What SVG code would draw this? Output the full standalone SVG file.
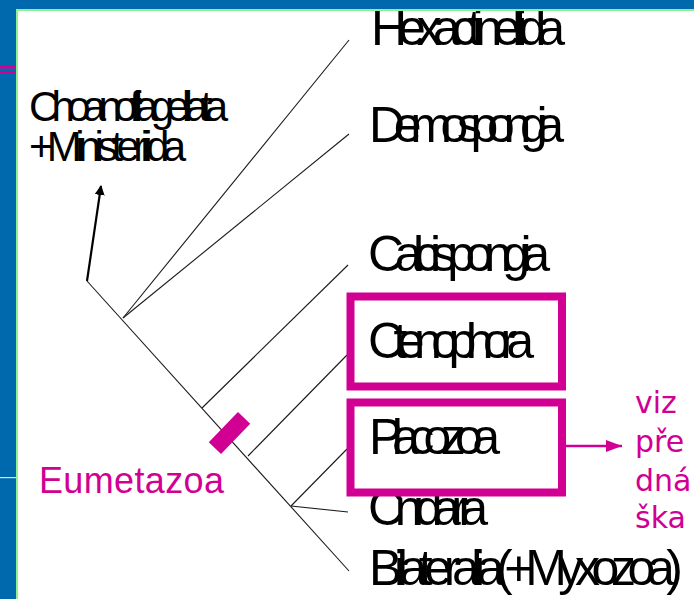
<svg xmlns="http://www.w3.org/2000/svg" width="694" height="599" viewBox="0 0 694 599">
<style>
.tree{stroke:#1a1a1a;stroke-width:1.1;fill:none}
.lbl{font-family:"Liberation Sans",Arial,sans-serif;font-size:50px;fill:#000}
.lbl2{font-family:"Liberation Sans",Arial,sans-serif;font-size:42px;fill:#000}
.mag{fill:#D10093}
.box{fill:none;stroke:#D10093;stroke-width:8}
.note{font-family:"DejaVu Sans",Verdana,sans-serif;font-size:30px;fill:#D10093}
</style>
<defs>
<marker id="ah" markerWidth="10" markerHeight="10" refX="9" refY="5" orient="auto" markerUnits="userSpaceOnUse">
<path d="M0,0 L10,5 L0,10 z" fill="#000"/>
</marker>
<marker id="ahm" markerWidth="17" markerHeight="12" refX="16" refY="6" orient="auto" markerUnits="userSpaceOnUse">
<path d="M0,0 L16,6 L0,12 z" fill="#D10093"/>
</marker>
</defs>
<rect x="0" y="0" width="694" height="599" fill="#fff"/>
<g id="connectors">
<line class="tree" x1="87" y1="281" x2="349" y2="571"/>
<line class="tree" x1="123" y1="318" x2="349" y2="40"/>
<line class="tree" x1="123" y1="318" x2="349" y2="134"/>
<line class="tree" x1="202" y1="408" x2="348" y2="265"/>
<line class="tree" x1="248" y1="456" x2="347" y2="355"/>
<line class="tree" x1="291" y1="506" x2="347" y2="449"/>
<line class="tree" x1="291" y1="506" x2="348" y2="512"/>
<line x1="87" y1="281" x2="101" y2="186" stroke="#000" stroke-width="2.2" marker-end="url(#ah)"/>
<line x1="566" y1="446" x2="622" y2="446" stroke="#D10093" stroke-width="2.5" marker-end="url(#ahm)"/>
</g>
<g id="outgroup"><text class="lbl2" x="29" y="121" textLength="199" lengthAdjust="spacing">Choanoflagellata</text>
<text class="lbl2" x="29" y="161" textLength="157" lengthAdjust="spacing">+Ministeriida</text></g>
<g id="hexactinellida"><text class="lbl" x="371" y="45" textLength="194" lengthAdjust="spacing">Hexactinellida</text></g>
<g id="demospongia"><text class="lbl" x="369" y="142" textLength="195" lengthAdjust="spacing">Demospongia</text></g>
<g id="calcispongia"><text class="lbl" x="368" y="271" textLength="182" lengthAdjust="spacing">Calcispongia</text></g>
<g id="ctenophora"><text class="lbl" x="368" y="358" textLength="166" lengthAdjust="spacing">Ctenophora</text>
<rect class="box" x="350.5" y="296.5" width="211.5" height="90"/></g>
<g id="cnidaria"><text class="lbl" x="368" y="525" textLength="120" lengthAdjust="spacing">Cnidaria</text></g>
<g id="placozoa"><text class="lbl" x="369" y="454" textLength="131" lengthAdjust="spacing">Placozoa</text>
<rect class="box" x="350.5" y="402.5" width="211.5" height="90"/></g>
<g id="bilateria"><text class="lbl" x="369" y="585" textLength="314" lengthAdjust="spacing">Bilateralia(+Myxozoa)</text></g>
<g id="eumetazoa"><rect class="mag" x="208.5" y="424.5" width="42" height="17" transform="rotate(-46 229.5 433)"/>
<text class="mag" x="39" y="493" font-family="Liberation Sans, Arial, sans-serif" font-size="36" textLength="185" lengthAdjust="spacing">Eumetazoa</text></g>
<g id="note"><text class="note" x="635" y="413">viz</text>
<text class="note" x="635" y="452">pře</text>
<text class="note" x="635" y="491">dná</text>
<text class="note" x="635" y="528">ška</text></g>
<g id="frame">
<rect x="0" y="0" width="694" height="9" fill="#0068AD"/>
<rect x="0" y="0" width="16" height="599" fill="#0068AD"/>
<rect x="16" y="9" width="678" height="2" fill="#90F090"/>
<rect x="16" y="9" width="2" height="590" fill="#90F090"/>
<rect x="0" y="66" width="16" height="2.5" fill="#D10093"/>
<rect x="0" y="71" width="16" height="2.5" fill="#D10093"/>
<rect x="0" y="477" width="16" height="1.2" fill="#CFE8F0"/>
</g>
</svg>
